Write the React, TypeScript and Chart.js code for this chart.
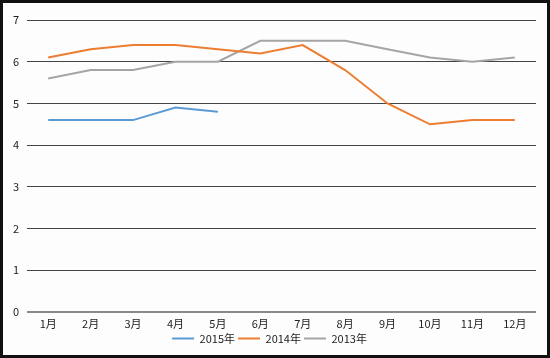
import React, { useEffect, useRef } from "react";
import { Chart, registerables } from "chart.js";

Chart.register(...registerables);

const months = ["1月", "2月", "3月", "4月", "5月", "6月", "7月", "8月", "9月", "10月", "11月", "12月"];
const yTicks = [0, 1, 2, 3, 4, 5, 6, 7];
const series2015 = [4.6, 4.6, 4.6, 4.9, 4.8];
const series2014 = [6.1, 6.3, 6.4, 6.4, 6.3, 6.2, 6.4, 5.8, 5.0, 4.5, 4.6, 4.6];
const series2013 = [5.6, 5.8, 5.8, 6.0, 6.0, 6.5, 6.5, 6.5, 6.3, 6.1, 6.0, 6.1];

const FONT = "'Noto Sans CJK SC', 'DejaVu Sans', sans-serif";

export default function App() {
  const ref = useRef<HTMLCanvasElement | null>(null);
  useEffect(() => {
    if (!ref.current) return;
    const mk = (label: string, data: number[], color: string) => ({
      label,
      data,
      borderColor: color,
      backgroundColor: color,
      borderWidth: 2,
      pointRadius: 0,
      pointStyle: "line" as const,
      tension: 0,
      fill: false,
    });
    const chart = new Chart(ref.current, {
      type: "line",
      data: {
        labels: months,
        datasets: [
          mk("2015年", series2015, "#5B9BD5"),
          mk("2014年", series2014, "#ED7D31"),
          mk("2013年", series2013, "#A5A5A5"),
        ],
      },
      options: {
        animation: false,
        responsive: false,
        layout: { padding: { top: 17, right: 11, left: 0, bottom: 1 } },
        plugins: {
          tooltip: { enabled: false },
          legend: {
            position: "bottom",
            labels: {
              usePointStyle: true,
              pointStyleWidth: 22,
              boxHeight: 2,
              color: "#222",
              font: { family: FONT, size: 11 },
              padding: 3,
            },
          },
        },
        scales: {
          x: {
            offset: true,
            grid: { display: false, drawTicks: false },
            border: { display: false },
            ticks: { color: "#222", font: { family: FONT, size: 11 }, padding: 5, maxRotation: 0, autoSkip: false },
            afterFit: (s: any) => { s.height = 18; },
          },
          y: {
            min: 0,
            max: 7,
            afterBuildTicks: (s: any) => { s.ticks = yTicks.map((v) => ({ value: v })); },
            grid: {
              color: (c: any) => (c.tick && c.tick.value === 0 ? "#8a8a8a" : "#444444"),
              lineWidth: (c: any) => (c.tick && c.tick.value === 0 ? 2 : 1),
              drawTicks: false,
            },
            border: { display: false },
            ticks: { color: "#222", font: { family: FONT, size: 11 }, padding: 8 },
            afterFit: (s: any) => { s.width = 24; },
          },
        },
      },
    });
    return () => chart.destroy();
  }, []);
  return (
    <div
      style={{
        position: "fixed",
        left: 0,
        top: 0,
        width: 550,
        height: 358,
        boxSizing: "border-box",
        border: "3px solid #111",
        background: "#fdfdfd",
      }}
    >
      <canvas ref={ref} width={544} height={352} style={{ display: "block" }} />
    </div>
  );
}
